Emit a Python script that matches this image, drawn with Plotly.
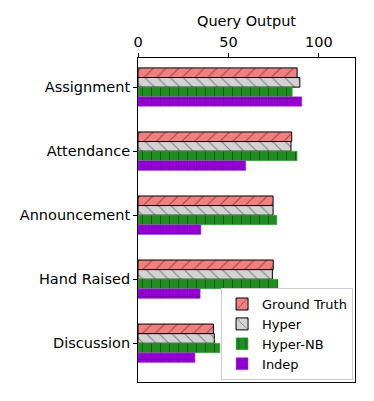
import plotly.graph_objects as go

categories = ["Assignment", "Attendance", "Announcement", "Hand Raised", "Discussion"]
ground_truth = [88, 85, 74.7, 74.8, 41.7]
hyper = [89.5, 84.6, 74.7, 74.3, 42.2]
hyper_nb = [85.3, 88, 76.8, 77.4, 45.3]
indep = [90.6, 59.6, 34.8, 34.4, 31.5]
x_ticks = [0, 50, 100]

FONT = "DejaVu Sans"
W = 0.15

series = [
    ("Ground Truth", ground_truth, "#F08080", "/", "rgba(60,30,30,0.55)", dict(color="black", width=1), -1.5 * W),
    ("Hyper", hyper, "#D3D3D3", "\\", "rgba(90,90,90,0.7)", dict(color="black", width=1), -0.5 * W),
    ("Hyper-NB", hyper_nb, "#228B22", "|", "rgba(10,80,10,0.8)", dict(color="rgba(60,170,60,0.8)", width=0.6), 0.5 * W),
    ("Indep", indep, "#9400D3", "+", "rgba(90,0,130,0.8)", dict(color="rgba(170,60,230,0.8)", width=0.6), 1.5 * W),
]

fig = go.Figure()
for name, vals, color, shape, fg, line, off in series:
    fig.add_trace(go.Bar(
        name=name, x=vals, y=categories, orientation="h",
        width=W, offset=off - W / 2,
        marker=dict(color=color, line=line,
                    pattern=dict(shape=shape, bgcolor=color, fgcolor=fg, size=9, solidity=0.12, fillmode="replace")),
    ))

fig.update_layout(
    width=366, height=393,
    margin=dict(l=126, r=19, t=45, b=19),
    paper_bgcolor="white", plot_bgcolor="white",
    font=dict(family=FONT, size=14.5, color="black"),
    barmode="overlay",
    showlegend=True,
    legend=dict(x=0.991, y=0.006, xanchor="right", yanchor="bottom",
                bgcolor="white", bordercolor="#cccccc", borderwidth=1,
                font=dict(family=FONT, size=13), tracegroupgap=0, itemwidth=30),
    xaxis=dict(side="top", range=[0, 120], tickvals=x_ticks, ticks="outside", ticklen=4,
               tickcolor="black", showgrid=False, zeroline=False,
               showline=True, linecolor="black", linewidth=1, mirror=True,
               title=dict(text="Query Output", font=dict(family=FONT, size=14.5), standoff=4),
               tickfont=dict(family=FONT, size=14.5)),
    yaxis=dict(type="category", categoryorder="array", categoryarray=categories,
               range=[4.605, -0.455], ticks="outside", ticklen=4, tickcolor="black",
               showgrid=False, zeroline=False, showline=True, linecolor="black", linewidth=1,
               mirror=True, tickfont=dict(family=FONT, size=14.5)),
)

fig.write_html("out.html")
